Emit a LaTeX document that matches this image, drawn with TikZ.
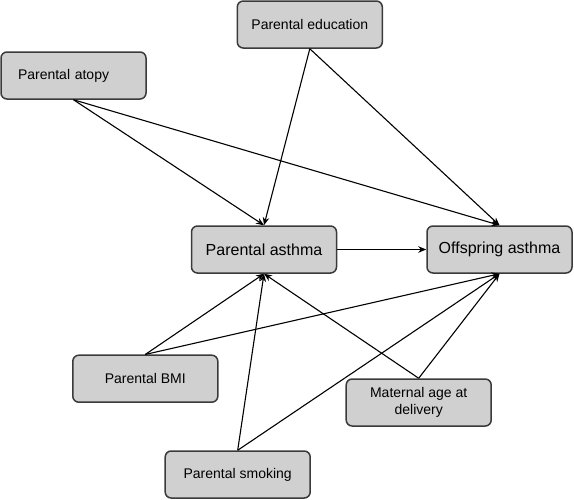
\documentclass[tikz,border=0pt]{standalone}
\usepackage{fontspec}
\setmainfont{Liberation Sans}
\definecolor{boxgray}{RGB}{208, 208, 208}
\definecolor{edgegray}{RGB}{58, 58, 58}
\usepackage{tikz}
\usetikzlibrary{
    arrows.meta,
    positioning
}
\tikzstyle{factor} = [
    rectangle,
    rounded corners=6pt,
    draw=edgegray,
    line width=1.5pt,
    fill=boxgray,
    minimum width=145pt,
    minimum height=47pt,
    align=center,
    font=\fontsize{14}{16.5}\selectfont
]
\tikzstyle{outcome} = [
    factor,
    font=\fontsize{16}{18}\selectfont
]
\tikzstyle{arrow} = [
    -{Stealth[length=8pt, width=6.5pt]},
    line width=1.1pt,
    draw=black
]

\begin{document}
\begin{tikzpicture}[x=1pt, y=-1pt]
    \useasboundingbox (0,0) rectangle (574,499);

    % Exposure and outcome
    \node[outcome] (parasthma) at (264,249.5) {Parental asthma};
    \node[outcome] (offasthma) at (499.5,249.5) {Offspring asthma};

    % Confounders above
    \node[factor] (educ) at (309.8,24.5) {Parental education};
    \node[factor, text width=111pt, align=left, inner xsep=17pt] (atopy) at (73.5,75.5) {Parental atopy};

    % Confounders below
    \node[factor] (bmi) at (145.3,378.7) {Parental BMI};
    \node[factor] (matage) at (418.7,402.5) {Maternal age at\\delivery};
    \node[factor] (smoking) at (237.7,474.5) {Parental smoking};

    % Arrows
    \draw[arrow] (parasthma) -- (offasthma);
    \draw[arrow] (educ.south) -- (parasthma.north);
    \draw[arrow] (educ.south) -- (offasthma.north);
    \draw[arrow] (atopy.south) -- (parasthma.north);
    \draw[arrow] (atopy.south) -- (offasthma.north);
    \draw[arrow] (bmi.north) -- (parasthma.south);
    \draw[arrow] (bmi.north) -- (offasthma.south);
    \draw[arrow] (smoking.north) -- (parasthma.south);
    \draw[arrow] (smoking.north) -- (offasthma.south);
    \draw[arrow] (matage.north) -- (parasthma.south);
    \draw[arrow] (matage.north) -- (offasthma.south);
\end{tikzpicture}
\end{document}
